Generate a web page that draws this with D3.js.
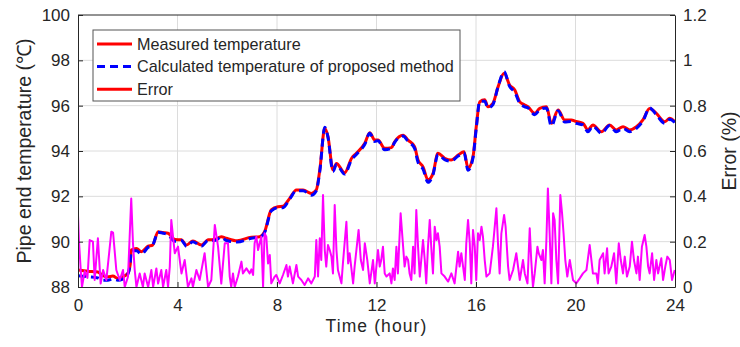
<!DOCTYPE html>
<html>
<head>
<meta charset="utf-8">
<script src="https://cdn.jsdelivr.net/npm/d3@7/dist/d3.min.js"></script>
<style>
  html, body { margin: 0; padding: 0; background: #fff; }
  svg text { font-family: "Liberation Sans", Arial, Helvetica, sans-serif; fill: #262626; }
</style>
</head>
<body>
<svg id="chart" width="740" height="347"></svg>
<script>
// ---- Data ----
const tempHours = [0, 0.4, 0.8, 1.0, 1.2, 1.4, 1.6, 1.8, 2.0, 2.1, 2.14, 2.35, 2.55, 2.82, 3.0, 3.22, 3.4, 3.62, 3.89, 4.16, 4.36, 4.62, 4.96, 5.23, 5.5, 5.76, 5.96,
  6.4, 6.97, 7.3, 7.5, 7.77, 8.04, 8.24, 8.51, 8.78, 9.05, 9.38, 9.58, 9.72, 9.92, 10.05, 10.25, 10.39, 10.72, 11.0, 11.19, 11.53, 11.73, 11.93,
  12.06, 12.33, 12.6, 12.73, 13.07, 13.27, 13.53, 13.67, 13.87, 14.07, 14.27, 14.47, 14.74, 15.0, 15.28, 15.52, 15.68, 15.88, 16.01, 16.15, 16.35, 16.48, 16.68, 16.89, 17.13, 17.35, 17.56, 17.76, 17.96,
  18.09, 18.36, 18.56, 18.83, 19.03, 19.3, 19.56, 19.83, 20.03, 20.3, 20.5, 20.7, 21.04, 21.37, 21.64, 21.91, 22.18, 22.45, 22.71, 22.98, 23.25, 23.59, 23.79, 24.0];
const measuredTemp = [88.75, 88.7, 88.66, 88.5, 88.45, 88.48, 88.38, 88.45, 88.6, 89.0, 89.63, 89.7, 89.56, 89.8, 89.85, 90.44, 90.4, 90.37, 90.1, 90.08, 89.85, 90.03, 89.85, 90.08, 90.1, 90.22, 90.15,
  90.04, 90.2, 90.22, 90.44, 91.4, 91.54, 91.56, 91.91, 92.28, 92.28, 92.13, 92.28, 93.16, 95.0, 94.63, 93.16, 93.45, 93.04, 93.68, 93.9, 94.34, 94.81, 94.48,
  94.48, 94.12, 94.15, 94.41, 94.7, 94.48, 94.19, 93.6, 93.3, 92.72, 93.0, 93.9, 93.68, 93.6, 93.82, 93.97, 93.24, 93.75, 95.07, 96.17, 96.26, 95.95, 96.1, 96.84, 97.43, 96.91, 96.69, 96.17, 96.03,
  95.95, 95.66, 95.88, 95.95, 95.22, 95.81, 95.37, 95.37, 95.3, 95.22, 94.93, 95.15, 94.85, 95.15, 94.93, 95.07, 94.93, 95.07, 95.37, 95.88, 95.66, 95.29, 95.44, 95.29];
const calculatedTemp = [88.5, 88.45, 88.4, 88.3, 88.3, 88.35, 88.3, 88.35, 88.55, 89.1, 89.6, 89.6, 89.45, 89.75, 89.85, 90.42, 90.38, 90.3, 90.02, 90.05, 89.8, 90.0, 89.8, 90.05, 90.05, 90.2, 90.05,
  89.98, 90.15, 90.2, 90.4, 91.35, 91.5, 91.5, 91.88, 92.25, 92.25, 92.05, 92.25, 93.1, 95.05, 94.6, 93.1, 93.4, 92.98, 93.62, 93.85, 94.3, 94.78, 94.42,
  94.45, 94.05, 94.12, 94.38, 94.66, 94.42, 94.12, 93.5, 93.2, 92.62, 92.95, 93.85, 93.62, 93.55, 93.78, 93.92, 93.15, 93.7, 95.0, 96.2, 96.2, 95.9, 96.05, 96.85, 97.5, 96.85, 96.6, 96.1, 95.95,
  95.9, 95.6, 95.82, 95.9, 95.1, 95.78, 95.28, 95.3, 95.22, 95.15, 94.85, 95.1, 94.78, 95.12, 94.85, 95.0, 94.85, 95.0, 95.32, 95.9, 95.6, 95.22, 95.4, 95.25];

const errorHours = [0, 0.04, 0.11, 0.16, 0.27, 0.38, 0.47, 0.6, 0.67, 0.8, 0.91, 1.01, 1.14, 1.34, 1.41, 1.54, 1.68, 1.81, 1.88, 2.01, 2.14, 2.21, 2.28, 2.35, 2.48, 2.61, 2.68, 2.82, 2.95, 3.02, 3.15, 3.22, 3.35, 3.42, 3.55, 3.62, 3.69, 3.75, 3.89, 4.02, 4.16, 4.29, 4.42, 4.56, 4.62, 4.76, 4.89, 5.09, 5.23, 5.36, 5.5, 5.63, 5.76, 5.9,
  6.03, 6.1, 6.16, 6.23, 6.3, 6.43, 6.57, 6.63, 6.77, 6.9, 6.97, 7.04, 7.1, 7.17, 7.24, 7.3, 7.37, 7.44, 7.5, 7.57, 7.64, 7.71, 7.77, 7.91, 7.97, 8.11, 8.24, 8.38, 8.44, 8.51, 8.64, 8.78, 8.85, 8.98, 9.11, 9.25, 9.38, 9.52, 9.58, 9.65, 9.72, 9.78, 9.85, 9.92, 9.98, 10.05, 10.12, 10.19, 10.25, 10.32, 10.39, 10.45, 10.59, 10.65, 10.79, 10.86, 10.92, 11.06, 11.12, 11.28, 11.37, 11.46, 11.53, 11.63, 11.73, 11.86, 11.93,
  12.06, 12.13, 12.19, 12.26, 12.33, 12.4, 12.53, 12.6, 12.66, 12.73, 12.8, 12.86, 12.97, 13.07, 13.13, 13.2, 13.27, 13.33, 13.4, 13.47, 13.53, 13.6, 13.67, 13.74, 13.87, 13.94, 14.0, 14.07, 14.14, 14.2, 14.27, 14.34, 14.41, 14.47, 14.54, 14.61, 14.74, 14.88, 15.01, 15.14, 15.28, 15.34, 15.41, 15.55, 15.61, 15.68, 15.75, 15.81, 15.88, 15.95, 16.01, 16.08, 16.15, 16.22, 16.28, 16.35, 16.42, 16.55, 16.68, 16.82, 16.89, 16.95, 17.02, 17.13, 17.19, 17.29, 17.35, 17.49, 17.62, 17.69, 17.76, 17.89, 17.96, 18.07,
  18.16, 18.22, 18.29, 18.36, 18.47, 18.52, 18.63, 18.69, 18.76, 18.83, 18.89, 18.96, 19.03, 19.1, 19.16, 19.23, 19.3, 19.39, 19.46, 19.52, 19.59, 19.67, 19.77, 19.9, 20.03, 20.17, 20.3, 20.44, 20.57, 20.64, 20.7, 20.84, 20.9, 20.97, 21.11, 21.17, 21.27, 21.33, 21.44, 21.55, 21.64, 21.74, 21.82, 21.91, 21.98, 22.07, 22.18, 22.27, 22.35, 22.45, 22.51, 22.58, 22.67, 22.78, 22.85, 22.92, 22.98, 23.08, 23.16, 23.25, 23.32, 23.45, 23.52, 23.61, 23.69, 23.79, 23.88, 23.99];
const errorPct = [0.318, 0.2, 0.075, 0.0, 0.07, 0.04, 0.207, 0.2, 0.031, 0.215, 0.015, 0.075, 0.031, 0.244, 0.24, 0.075, 0.031, 0.075, 0.0, 0.045, 0.39, 0.193, 0.075, 0.0, 0.06, 0.0, 0.06, 0.0, 0.075, 0.0, 0.082, 0.015, 0.075, 0.0, 0.075, 0.0, 0.09, 0.296, 0.149, 0.178, 0.06, 0.119, 0.0, 0.038, 0.0, 0.075, 0.031, 0.149, 0.0, 0.031, 0.274, 0.178, 0.015, 0.193,
  0.193, 0.046, 0.0, 0.06, 0.0, 0.046, 0.112, 0.06, 0.082, 0.06, 0.078, 0.053, 0.193, 0.222, 0.163, 0.193, 0.222, 0.0, 0.237, 0.222, 0.104, 0.141, 0.016, 0.046, 0.053, 0.016, 0.053, 0.097, 0.046, 0.09, 0.016, 0.097, 0.046, 0.031, 0.009, 0.038, 0.016, 0.046, 0.207, 0.046, 0.215, 0.119, 0.406, 0.163, 0.09, 0.185, 0.163, 0.134, 0.06, 0.362, 0.163, 0.075, 0.016, 0.104, 0.288, 0.104, 0.149, 0.016, 0.09, 0.252, 0.119, 0.075, 0.193, 0.119, 0.016, 0.119, 0.016,
  0.163, 0.09, 0.119, 0.178, 0.06, 0.046, 0.06, 0.016, 0.082, 0.031, 0.178, 0.06, 0.325, 0.178, 0.09, 0.134, 0.119, 0.06, 0.031, 0.178, 0.06, 0.34, 0.178, 0.046, 0.207, 0.119, 0.016, 0.178, 0.296, 0.178, 0.06, 0.266, 0.207, 0.237, 0.178, 0.06, 0.046, 0.024, 0.06, 0.016, 0.156, 0.09, 0.149, 0.031, 0.193, 0.296, 0.193, 0.016, 0.252, 0.178, 0.031, 0.237, 0.207, 0.266, 0.222, 0.119, 0.046, 0.06, 0.178, 0.347, 0.178, 0.06, 0.237, 0.318, 0.266, 0.09, 0.031, 0.075, 0.149, 0.09, 0.031, 0.119, 0.06, 0.016,
  0.259, 0.119, 0.0, 0.06, 0.178, 0.149, 0.119, 0.163, 0.016, 0.207, 0.435, 0.237, 0.016, 0.325, 0.296, 0.119, 0.016, 0.406, 0.325, 0.237, 0.119, 0.046, 0.119, 0.031, 0.016, 0.038, 0.06, 0.075, 0.185, 0.119, 0.06, 0.06, 0.016, 0.119, 0.149, 0.06, 0.171, 0.06, 0.09, 0.149, 0.016, 0.193, 0.119, 0.06, 0.134, 0.046, 0.09, 0.2, 0.119, 0.06, 0.134, 0.031, 0.178, 0.229, 0.178, 0.09, 0.06, 0.149, 0.031, 0.119, 0.06, 0.127, 0.031, 0.09, 0.134, 0.119, 0.031, 0.075];

const xTicks = [0, 4, 8, 12, 16, 20, 24];
const yLeftTicks = [88, 90, 92, 94, 96, 98, 100];
const yRightTicks = [0, 0.2, 0.4, 0.6, 0.8, 1.0, 1.2];
const legendLabels = ["Measured temperature", "Calculated temperature of proposed method", "Error"];

// ---- Layout ----
const svg = d3.select("#chart");
const L = 78, R = 675, T = 15, B = 287;
const x = d3.scaleLinear().domain([0, 24]).range([L, R]);
const yL = d3.scaleLinear().domain([88, 100]).range([B, T]);
const yR = d3.scaleLinear().domain([0, 1.2]).range([B, T]);
const axisColor = "#262626";

// Grid
const grid = svg.append("g");
grid.selectAll(".gx").data(xTicks.slice(1, -1)).join("line")
  .attr("x1", d => x(d)).attr("x2", d => x(d)).attr("y1", T).attr("y2", B)
  .attr("stroke", "#dcdcdc").attr("stroke-width", 1);
grid.selectAll(".gy").data(yLeftTicks.slice(1, -1)).join("line")
  .attr("x1", L).attr("x2", R).attr("y1", d => yL(d)).attr("y2", d => yL(d))
  .attr("stroke", "#dcdcdc").attr("stroke-width", 1);

// Clip
svg.append("clipPath").attr("id", "clip").append("rect")
  .attr("x", L).attr("y", T).attr("width", R - L).attr("height", B - T);

const plot = svg.append("g").attr("clip-path", "url(#clip)");

const tempLine = (vals) => d3.line()
  .x((d, i) => x(tempHours[i])).y(d => yL(d))
  .curve(d3.curveMonotoneX)(vals);

plot.append("path").attr("d", tempLine(measuredTemp))
  .attr("fill", "none").attr("stroke", "#ff0000").attr("stroke-width", 3);
plot.append("path").attr("d", tempLine(calculatedTemp))
  .attr("fill", "none").attr("stroke", "#0000ff").attr("stroke-width", 3)
  .attr("stroke-dasharray", "8,5");

const errLine = d3.line().x((d, i) => x(errorHours[i])).y(d => yR(d));
plot.append("path").attr("d", errLine(errorPct))
  .attr("fill", "none").attr("stroke", "#ff00ff").attr("stroke-width", 2)
  .attr("stroke-linejoin", "round");

// Axes
const fs = "17px";
const bottomAxis = svg.append("g").attr("transform", `translate(0,${B})`)
  .call(d3.axisBottom(x).tickValues(xTicks).tickSizeInner(-5).tickSizeOuter(0).tickPadding(12));
const leftAxis = svg.append("g").attr("transform", `translate(${L},0)`)
  .call(d3.axisLeft(yL).tickValues(yLeftTicks).tickSizeInner(-5).tickSizeOuter(0).tickPadding(8));
const rightAxis = svg.append("g").attr("transform", `translate(${R},0)`)
  .call(d3.axisRight(yR).tickValues(yRightTicks).tickFormat(d3.format("~g")).tickSizeInner(-5).tickSizeOuter(0).tickPadding(8));
[bottomAxis, leftAxis, rightAxis].forEach(g => {
  g.selectAll("path.domain").attr("stroke", axisColor);
  g.selectAll(".tick line").attr("stroke", axisColor);
  g.selectAll(".tick text").attr("font-size", fs).attr("fill", axisColor)
    .attr("font-family", '"Liberation Sans", Arial, sans-serif');
});
// Top border
svg.append("line").attr("x1", L).attr("x2", R).attr("y1", T).attr("y2", T)
  .attr("stroke", axisColor).attr("stroke-width", 1);

// Axis labels
svg.append("text").attr("x", x(12)).attr("y", 332).attr("text-anchor", "middle")
  .attr("font-size", "17.5px").attr("letter-spacing", "1.1px").text("Time (hour)");
svg.append("text").attr("transform", `translate(31,${(T + B) / 2}) rotate(-90)`)
  .attr("text-anchor", "middle").attr("font-size", "19.5px").text("Pipe end temperature (℃)");
svg.append("text").attr("transform", `translate(736,${(T + B) / 2}) rotate(-90)`)
  .attr("text-anchor", "middle").attr("font-size", "19.5px").text("Error (%)");

// Legend
const lg = svg.append("g");
lg.append("rect").attr("x", 93).attr("y", 30).attr("width", 367).attr("height", 71)
  .attr("fill", "#fff").attr("stroke", "#555").attr("stroke-width", 1);
const legendStyles = [
  { color: "#ff0000", dash: null },
  { color: "#0000ff", dash: "8,5" },
  { color: "#ff0000", dash: null }
];
legendLabels.forEach((lab, i) => {
  const cy = 44 + i * 22.6;
  lg.append("line").attr("x1", 97).attr("x2", 132).attr("y1", cy).attr("y2", cy)
    .attr("stroke", legendStyles[i].color).attr("stroke-width", 3)
    .attr("stroke-dasharray", legendStyles[i].dash);
  lg.append("text").attr("x", 137).attr("y", cy + 5.8).attr("font-size", "16.2px").text(lab);
});
</script>
</body>
</html>
